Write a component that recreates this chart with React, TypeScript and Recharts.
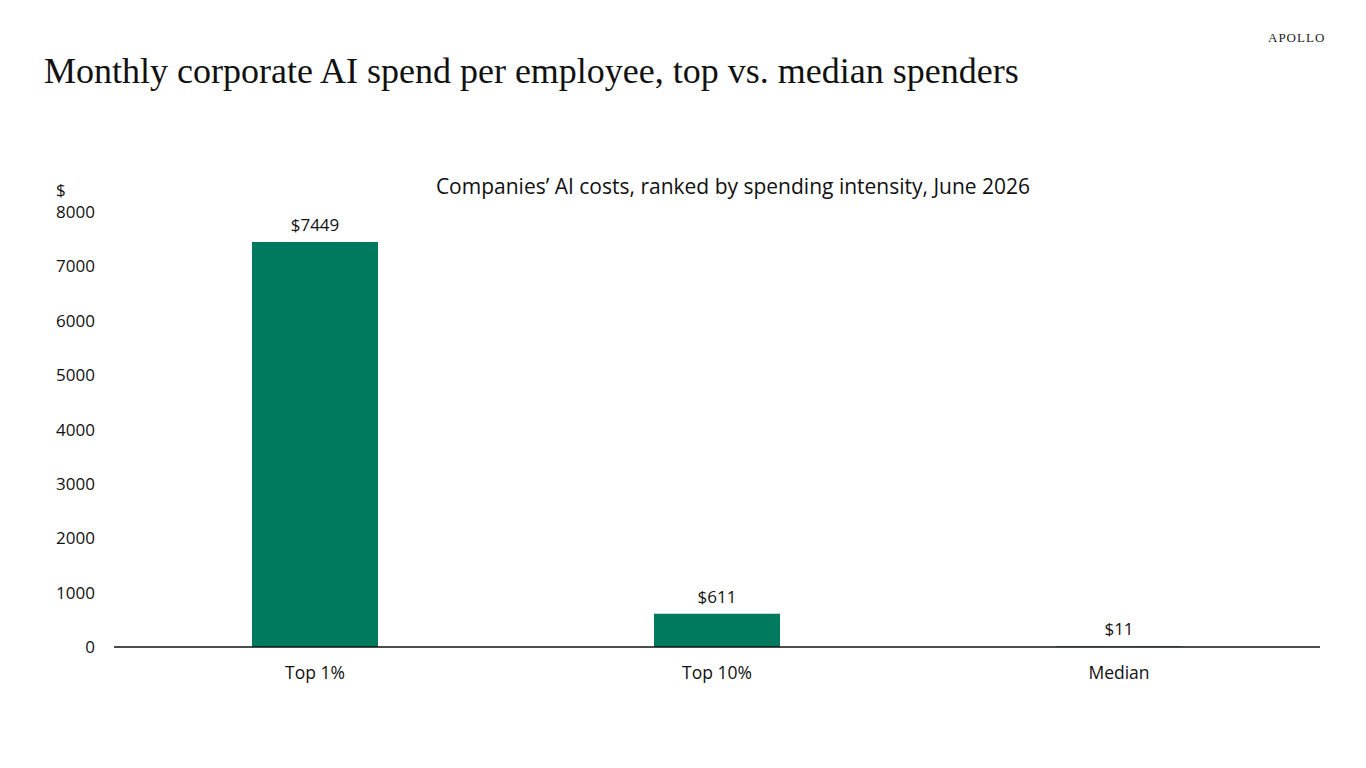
import { Bar, BarChart, LabelList, XAxis, YAxis } from "recharts";

const categories = ["Top 1%", "Top 10%", "Median"];
const spend = [7449, 611, 11];
const yTicks = [0, 1000, 2000, 3000, 4000, 5000, 6000, 7000, 8000];

const data = categories.map((name, i) => ({ name, spend: spend[i] }));

const sans = "'Open Sans', 'Noto Sans', sans-serif";
const serif = "'Liberation Serif', 'DejaVu Serif', serif";

export default function App() {
  return (
    <div
      style={{
        position: "absolute",
        left: 0,
        top: 0,
        width: 1366,
        height: 768,
        background: "#fff",
        overflow: "hidden",
      }}
    >
      <div
        style={{
          position: "absolute",
          left: 44,
          top: 50,
          fontFamily: serif,
          fontSize: 36,
          color: "#111",
          whiteSpace: "nowrap",
        }}
      >
        Monthly corporate AI spend per employee, top vs. median spenders
      </div>
      <div
        style={{
          position: "absolute",
          left: 1268,
          top: 30,
          fontFamily: serif,
          fontSize: 13,
          letterSpacing: 1,
          color: "#222",
        }}
      >
        APOLLO
      </div>
      <div
        style={{
          position: "absolute",
          left: 0,
          width: 1466,
          top: 172,
          textAlign: "center",
          fontFamily: sans,
          fontSize: 21,
          color: "#111",
        }}
      >
        Companies’ AI costs, ranked by spending intensity, June 2026
      </div>
      <div
        style={{
          position: "absolute",
          left: 56,
          top: 178,
          fontFamily: sans,
          fontSize: 17,
          color: "#111",
        }}
      >
        $
      </div>
      <div style={{ position: "absolute", left: 0, top: 0 }}>
        <BarChart
          width={1366}
          height={768}
          data={data}
          margin={{ top: 212, right: 46, bottom: 81, left: 34 }}
          barCategoryGap={138}
        >
          <XAxis
            dataKey="name"
            height={40}
            tickLine={false}
            axisLine={{ stroke: "#111", strokeWidth: 1.5 }}
            tick={{ fill: "#111", fontSize: 17.5, fontFamily: sans }}
            tickMargin={14}
          />
          <YAxis
            width={80}
            domain={[0, 8000]}
            ticks={yTicks}
            interval={0}
            axisLine={false}
            tickLine={false}
            tickMargin={13}
            tick={{ fill: "#111", fontSize: 17, fontFamily: sans }}
          />
          <Bar dataKey="spend" fill="#007A5F" barSize={126} isAnimationActive={false}>
            <LabelList
              dataKey="spend"
              position="top"
              offset={11}
              formatter={(v: number) => `$${v}`}
              style={{ fill: "#111", fontSize: 17, fontFamily: sans }}
            />
          </Bar>
        </BarChart>
      </div>
    </div>
  );
}
